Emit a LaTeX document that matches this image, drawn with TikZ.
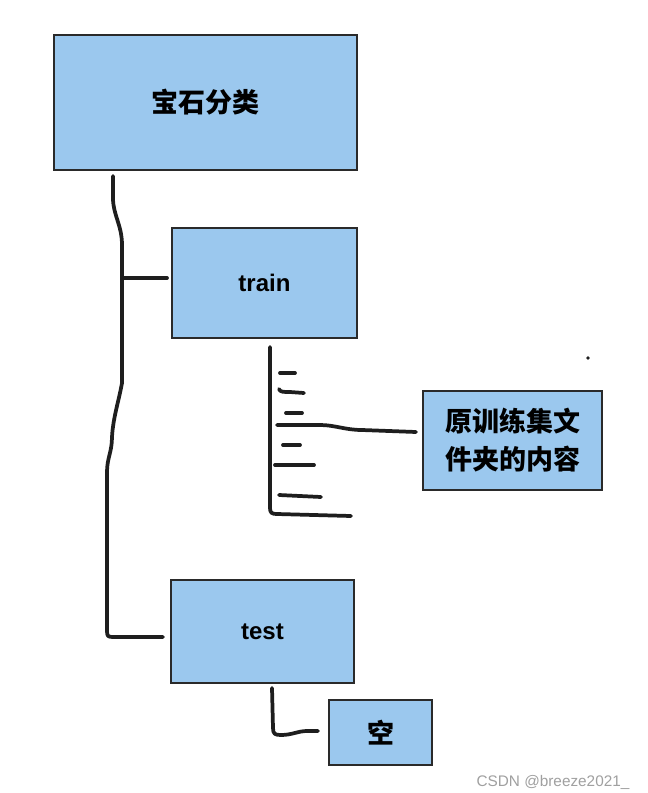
\documentclass[tikz,border=0pt]{standalone}
\usepackage{fontspec}
\setmainfont{Noto Sans CJK SC}
\newfontfamily\wmfont{Liberation Sans}
\newfontfamily\latinfont{Liberation Sans}
\usetikzlibrary{calc}
\definecolor{boxfill}{HTML}{9BC8EE}
\definecolor{boxline}{HTML}{2A2A2A}
\definecolor{ink}{HTML}{1E1E1E}
\definecolor{wmgray}{HTML}{A0A0A0}
\begin{document}
\begin{tikzpicture}[x=0.75pt,y=-0.75pt,
  box/.style={draw=boxline,line width=1.6pt,fill=boxfill,inner sep=0pt,font=\bfseries\fontsize{20.25}{28.5}\selectfont,align=center},
  pen/.style={draw=ink,line width=2.8pt,line cap=round,line join=round},
  latin/.style={font=\latinfont\bfseries\fontsize{18}{21}\selectfont}]
\useasboundingbox (0,0) rectangle (648,793);
\fill[white] (0,0) rectangle (648,793);

\node[box,minimum width=227.25pt,minimum height=101.25pt] (root) at (205.5,102.5) {宝石分类};
\node[box,latin,minimum width=138.75pt,minimum height=82.5pt] (train) at (264.5,283) {train};
\node[box,minimum width=134.25pt,minimum height=74.25pt] (content) at (512.5,440.5) {原训练集文\\件夹的内容};
\node[box,latin,minimum width=137.25pt,minimum height=77.25pt] (test) at (262.5,631.5) {test};
\node[box,minimum width=77.25pt,minimum height=48.75pt] (empty) at (380.5,732.5) {空};

% trunk from root to test
\coordinate (trunktop) at (113,176);
\coordinate (testin) at (163,637);
\draw[pen] (trunktop) -- (113,198) .. controls (113,215) and (122,225) .. (122,245)
  -- (122,383) .. controls (119,400) and (113,418) .. (112,437)
  .. controls (112,452) and (107,458) .. (107,472)
  -- (107,631) .. controls (107,636) and (108,637) .. (113,637) -- (testin);

% branch to train
\coordinate (trainjoin) at (124,278);
\coordinate (trainin) at (167,278);
\draw[pen] (trainjoin) -- (trainin);

% train contents
\coordinate (traintop) at (270,347);
\coordinate (listend) at (351,516);
\draw[pen] (traintop) -- (270,508) .. controls (270,513) and (272,514) .. (277,514) -- (listend);
\draw[pen] (280,373) -- (295,373);
\draw[pen] (279,389) .. controls (280,392) and (283,392) .. (290,392) -- (304,393);
\draw[pen] (286,413) -- (302,413);
\coordinate (contentin) at (416,432);
\draw[pen] (277,425) -- (320,425) .. controls (335,425) and (345,430) .. (362,430) -- (contentin);
\draw[pen] (283,445) -- (300,445);
\draw[pen] (275,465) -- (314,465);
\draw[pen] (279,495) -- (321,497);

% stray dot
\fill[ink] (588,358) circle (1.4pt);

% test to empty
\coordinate (testfoot) at (272,688);
\coordinate (emptyin) at (318,731);
\draw[pen] (testfoot) -- (273,728) .. controls (273,734) and (275,735) .. (281,735)
  .. controls (292,735) and (298,731) .. (307,731) -- (emptyin);

% watermark
\node[font=\wmfont\fontsize{11.5}{13}\selectfont,text=wmgray,inner sep=0pt] (wm) at (553,782) {CSDN @breeze2021\_};
\end{tikzpicture}
\end{document}
